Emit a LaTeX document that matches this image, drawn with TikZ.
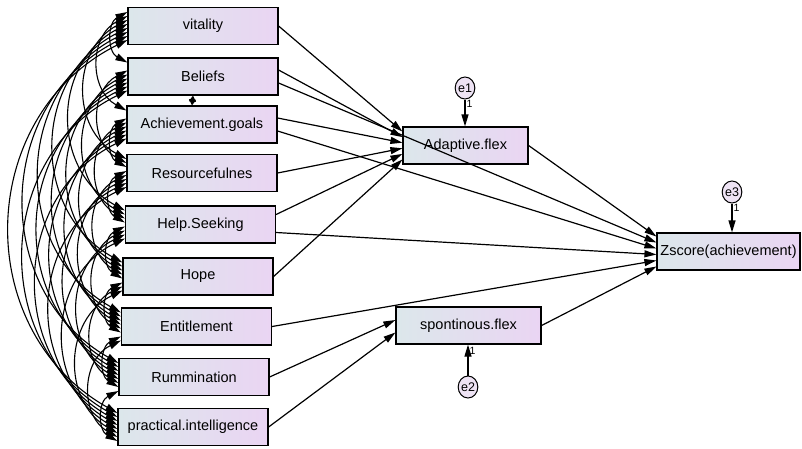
\documentclass[tikz,border=0pt]{standalone}
\usepackage{fontspec}
\setmainfont{Liberation Sans}
\usetikzlibrary{arrows.meta,shapes.geometric}

\definecolor{boxleft}{HTML}{DCE7EB}
\definecolor{boxright}{HTML}{EAD5F3}
\definecolor{errfill}{HTML}{EEE3F4}

\begin{document}
\begin{tikzpicture}[x=1pt, y=-1pt, >={Triangle[length=12pt,width=7pt]},
  obs/.style={draw, line width=1.2pt, left color=boxleft, right color=boxright,
    minimum width=150pt, minimum height=37pt, inner sep=0pt,
    font=\fontsize{14.5}{16}\selectfont},
  err/.style={ellipse, draw, line width=1pt, fill=errfill, minimum width=19pt,
    minimum height=22pt, inner sep=0pt, font=\fontsize{12.5}{13}\selectfont},
  regr/.style={->, line width=1.2pt},
  cov/.style={<->, line width=1.1pt},
  one/.style={font=\fontsize{10.5}{11}\selectfont, inner sep=1pt}]
  \useasboundingbox (0,0) rectangle (802,448);

  % ---- Observed predictors ----
  \node[obs] (vit) at (203,26) {vitality};
  \node[obs] (bel) at (203,76.5) {Beliefs};
  \node[obs] (ach) at (202,124.5) {Achievement.goals};
  \node[obs] (res) at (202,173) {Resourcefulnes};
  \node[obs] (hlp) at (200.5,224.5) {Help.Seeking};
  \node[obs] (hop) at (198,276.5) {Hope};
  \node[obs] (ent) at (196.5,326.5) {Entitlement};
  \node[obs] (rum) at (194,377) {Rummination};
  \node[obs] (pra) at (193,427) {practical.intelligence};

  % ---- Mediators and outcome ----
  \node[obs, minimum width=125pt] (ada) at (465.5,145.5) {Adaptive.flex};
  \node[obs, minimum width=145pt] (spo) at (468.5,325.5) {spontinous.flex};
  \node[obs, minimum width=143pt] (zsc) at (728.5,251.5) {Zscore(achievement)};

  % Error terms
  \node[err] (e1) at (465,88) {e1};
  \node[err] (e2) at (468,387) {e2};
  \node[err] (e3) at (732,192) {e3};
  \draw[regr] (e1.south) -- (e1 |- ada.north) node[one, pos=0.15, right] {1};
  \draw[regr] (e3.south) -- (e3 |- zsc.north) node[one, pos=0.15, right] {1};
  \draw[regr] (e2.north) -- (e2 |- spo.south) node[one, pos=0.8, right] {1};

  % ---- Paths to Adaptive.flex ----
  \draw[regr] (vit.east) -- ([yshift=14pt]ada.west);
  \draw[regr] ([yshift=6.5pt]bel.east) -- ([yshift=8.4pt]ada.west);
  \draw[regr] ([yshift=6.5pt]ach.east) -- ([yshift=2.8pt]ada.west);
  \draw[regr] (res.east) -- ([yshift=-2.8pt]ada.west);
  \draw[regr] ([yshift=10pt]hlp.east) -- ([yshift=-8.4pt]ada.west);
  \draw[regr] (hop.east) -- ([yshift=-14pt]ada.west);

  % ---- Paths to spontinous.flex ----
  \draw[regr] (rum.east) -- ([yshift=5.5pt]spo.west);
  \draw[regr] (pra.east) -- ([yshift=-7pt]spo.west);

  % ---- Paths to Zscore(achievement) ----
  \draw[regr] (ada.east) -- ([yshift=15pt]zsc.west);
  \draw[regr] ([yshift=-6.5pt]bel.east) -- ([yshift=9pt]zsc.west);
  \draw[regr] ([yshift=-6.5pt]ach.east) -- ([yshift=3pt]zsc.west);
  \draw[regr] ([yshift=-8pt]hlp.east) -- ([yshift=-3pt]zsc.west);
  \draw[regr] (ent.east) -- ([yshift=-9pt]zsc.west);
  \draw[regr] (spo.east) -- ([yshift=-15pt]zsc.west);

  % ---- Covariances among predictors ----
  \foreach \a [count=\i from 0] in {vit,bel,ach,res,hlp,hop,ent,rum,pra} {
    \foreach \b [count=\j from 0] in {vit,bel,ach,res,hlp,hop,ent,rum,pra} {
      \ifnum\j>\i
        \ifnum\i\j=12 \else
          \draw[cov] ([yshift={14-4*(\j-1)}]\a.west)
            to[bend right=62, looseness=1.16] ([yshift={14-4*\i}]\b.west);
        \fi
      \fi
    }
  }
  % Beliefs with Achievement.goals
  \draw[cov, >={Triangle[length=6pt,width=7pt]}]
    ([xshift=-10pt]bel.south) -- ([xshift=-10pt]ach.north);
\end{tikzpicture}
\end{document}
